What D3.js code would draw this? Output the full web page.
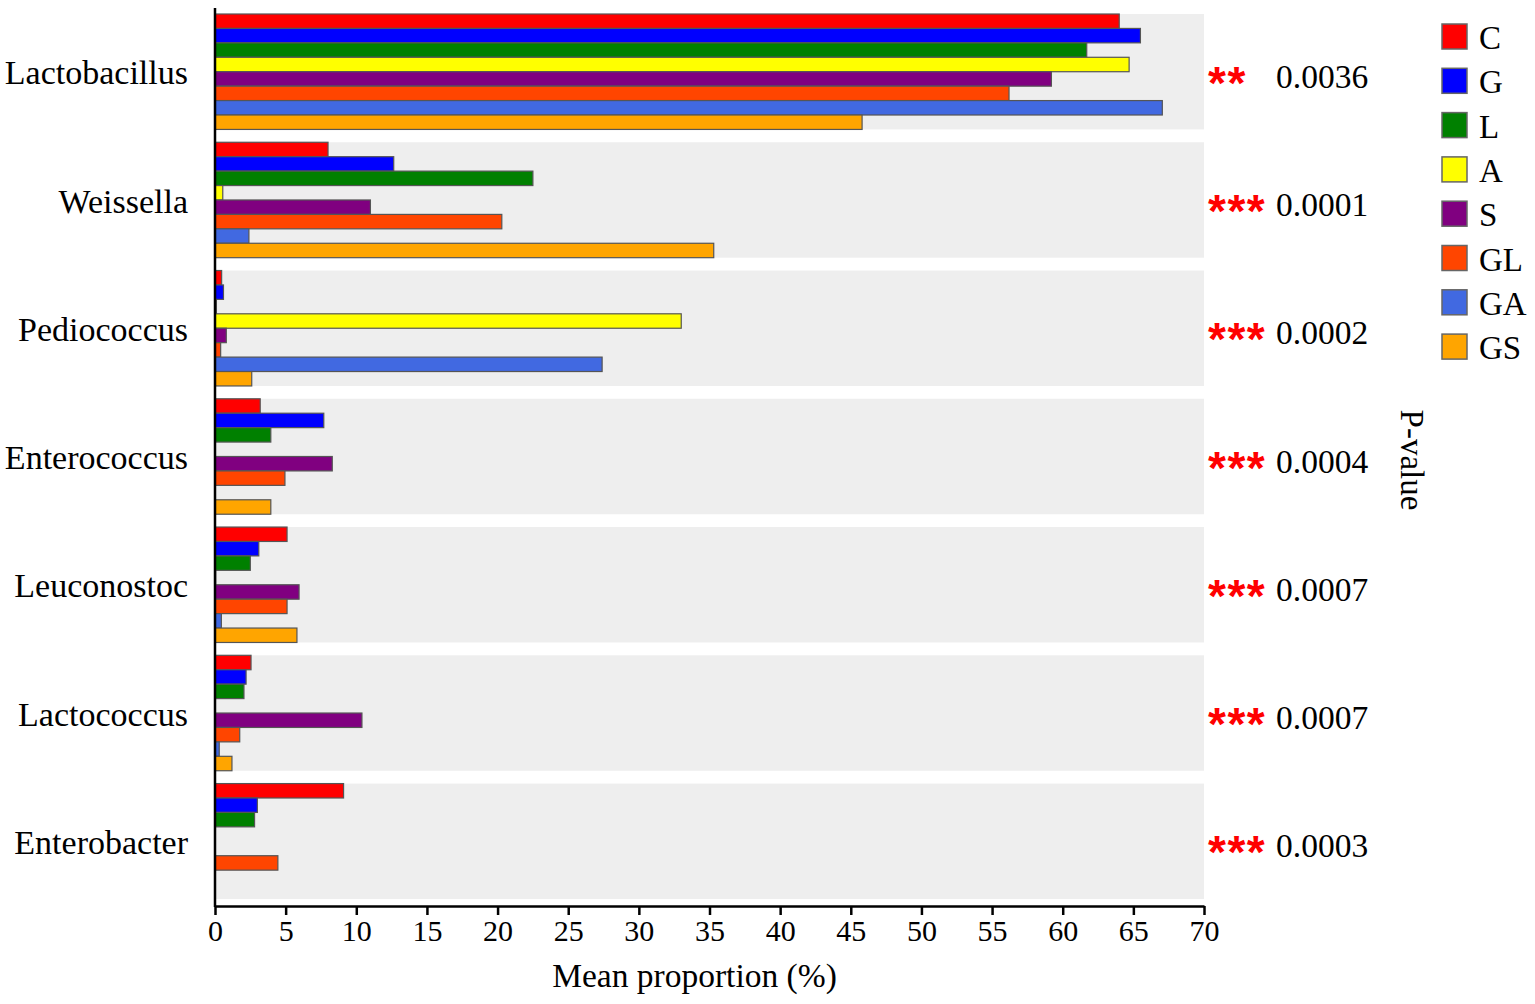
<!DOCTYPE html>
<html>
<head>
<meta charset="utf-8">
<script src="https://cdn.jsdelivr.net/npm/d3@7"></script>
<style>
  body { margin: 0; background: #fff; }
  svg text { font-family: "Liberation Serif", "Times New Roman", serif; fill: #000; }
</style>
</head>
<body>
<svg width="1535" height="1004"></svg>
<script>
const svg = d3.select('svg');

// data
const genera = ['Lactobacillus', 'Weissella', 'Pediococcus', 'Enterococcus', 'Leuconostoc', 'Lactococcus', 'Enterobacter'];
const groups = ['C', 'G', 'L', 'A', 'S', 'GL', 'GA', 'GS'];
const groupColors = ['#ff0000', '#0000ff', '#008000', '#ffff00', '#800080', '#ff4500', '#4169e1', '#ffa500'];

const valuesC  = [64.0, 8.0, 0.47, 3.2, 5.1, 2.55, 9.1];
const valuesG  = [65.5, 12.65, 0.6, 7.7, 3.1, 2.2, 3.0];
const valuesL  = [61.7, 22.5, 0.1, 3.95, 2.5, 2.05, 2.8];
const valuesA  = [64.7, 0.55, 33.0, 0, 0.05, 0, 0];
const valuesS  = [59.2, 11.0, 0.8, 8.3, 5.95, 10.4, 0];
const valuesGL = [56.2, 20.3, 0.4, 4.95, 5.1, 1.75, 4.45];
const valuesGA = [67.05, 2.4, 27.4, 0, 0.45, 0.3, 0];
const valuesGS = [45.8, 35.3, 2.6, 3.95, 5.8, 1.2, 0];

const pStars  = ['**', '***', '***', '***', '***', '***', '***'];
const pValues = ['0.0036', '0.0001', '0.0002', '0.0004', '0.0007', '0.0007', '0.0003'];
const xTicks  = d3.range(0, 71, 5);

const seriesValues = [valuesC, valuesG, valuesL, valuesA, valuesS, valuesGL, valuesGA, valuesGS];
const rows = [];
genera.forEach((g, i) => {
  groups.forEach((s, j) => rows.push({ genus: g, group: s, value: seriesValues[j][i] }));
});

// scales
const xScale = d3.scaleLinear().domain([0, 70]).range([215, 1204]);
const yScale = d3.scaleBand().domain(genera).range([14, 899]).paddingInner(0.1);
const ySub = d3.scaleBand().domain(groups).range([0, yScale.bandwidth()]);
const color = d3.scaleOrdinal().domain(groups).range(groupColors);

// grey bands
svg.append('g').selectAll('rect').data(genera)
  .enter().append('rect')
    .attr('x', xScale(0))
    .attr('y', d => yScale(d))
    .attr('width', xScale(70) - xScale(0))
    .attr('height', yScale.bandwidth())
    .attr('fill', '#eeeeee');

// bars
svg.append('g').selectAll('rect').data(rows.filter(d => d.value > 0))
  .enter().append('rect')
    .attr('x', xScale(0))
    .attr('y', d => yScale(d.genus) + ySub(d.group))
    .attr('width', d => xScale(d.value) - xScale(0))
    .attr('height', ySub.bandwidth())
    .attr('fill', d => color(d.group))
    .attr('stroke', '#555')
    .attr('stroke-width', 1.2);

// x axis
const xAxisG = svg.append('g')
  .attr('transform', 'translate(0, 906)')
  .call(d3.axisBottom(xScale).tickValues(xTicks).tickSize(9).tickSizeOuter(0).tickPadding(5));
xAxisG.select('.domain').attr('stroke', '#000').attr('stroke-width', 2.5);
xAxisG.selectAll('.tick line').attr('stroke', '#000').attr('stroke-width', 2.5);
xAxisG.selectAll('.tick text')
  .style('font-family', '"Liberation Serif", serif')
  .attr('font-size', 30)
  .attr('fill', '#000');

svg.append('text')
  .attr('x', (xScale(0) + xScale(70)) / 2 - 15)
  .attr('y', 987)
  .attr('text-anchor', 'middle')
  .attr('font-size', 33.5)
  .text('Mean proportion (%)');

// y axis
const yAxisG = svg.append('g')
  .attr('transform', `translate(${xScale(0)}, 0)`)
  .call(d3.axisLeft(yScale).tickSize(0).tickPadding(27));
yAxisG.select('.domain').remove();
yAxisG.append('line')
  .attr('x1', 0).attr('x2', 0)
  .attr('y1', 8).attr('y2', 907)
  .attr('stroke', '#000').attr('stroke-width', 2.5);
yAxisG.selectAll('.tick text')
  .style('font-family', '"Liberation Serif", serif')
  .attr('font-size', 34)
  .attr('fill', '#000')
  .attr('dy', '0.37em');

// p-values
const pG = svg.append('g');
pG.selectAll('text.star').data(genera)
  .enter().append('text')
    .attr('class', 'star')
    .attr('x', 1208)
    .attr('y', d => yScale(d) + yScale.bandwidth() / 2 + 27)
    .style('font-family', '"Liberation Sans", Arial, sans-serif')
    .style('font-weight', 'bold')
    .attr('font-size', 46)
    .attr('letter-spacing', 1.5)
    .style('fill', '#ff0000')
    .text((d, i) => pStars[i]);
pG.selectAll('text.pval').data(genera)
  .enter().append('text')
    .attr('class', 'pval')
    .attr('x', 1276)
    .attr('y', d => yScale(d) + yScale.bandwidth() / 2 + 16)
    .attr('font-size', 33.5)
    .text((d, i) => pValues[i]);

svg.append('text')
  .attr('transform', 'translate(1401, 460) rotate(90)')
  .attr('text-anchor', 'middle')
  .attr('font-size', 33)
  .text('P-value');

// legend
const legend = svg.append('g').selectAll('g').data(groups)
  .enter().append('g')
    .attr('transform', (d, i) => `translate(1442, ${24 + i * 44.3})`);
legend.append('rect')
  .attr('width', 25).attr('height', 25)
  .attr('fill', d => color(d))
  .attr('stroke', '#666').attr('stroke-width', 1.5);
legend.append('text')
  .attr('x', 37)
  .attr('y', 25)
  .attr('font-size', 33)
  .text(d => d);
</script>
</body>
</html>
